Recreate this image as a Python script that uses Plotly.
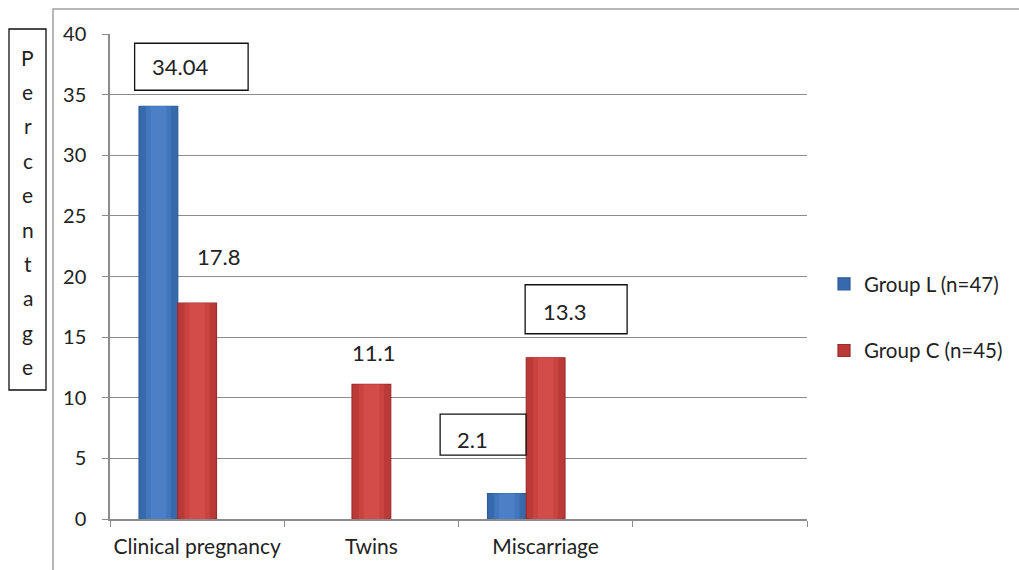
import plotly.graph_objects as go

# ---- data -------------------------------------------------------------
categories = ["Clinical pregnancy", "Twins", "Miscarriage", " "]
group_l = [34.04, None, 2.1, None]
group_c = [17.8, 11.1, 13.3, None]
series_names = ["Group L (n=47)", "Group C (n=45)"]
y_ticks = [0, 5, 10, 15, 20, 25, 30, 35, 40]
y_title = "Percentage"

# ---- style ------------------------------------------------------------
FONT = "Lato"
TXT = "#222222"
GRID = "#8c8c8c"
# shaded bar body: edge -> middle -> centre
BLUE_SHADES = ["#2c5c9b", "#3769ad", "#4276bd", "#4b80c6"]
RED_SHADES = ["#9c2d2b", "#bb3937", "#c94341", "#d24c49"]

# plot area in pixels (figure is 1019 x 570)
L, R, T, B = 110, 807, 34, 519
W, H = 1019, 570


def px_x(x):
    return (x - L) / (R - L)


def px_y(y):
    return (B - y) / (B - T)


# three slots per category, 150% gap (the third slot is unused)
slot = 1 / 4.5
layer_widths = [1.0, 0.85, 0.65, 0.4]

fig = go.Figure()
for vals, name, shades, grp, slot_off in [
    (group_l, series_names[0], BLUE_SHADES, "l", -1.5),
    (group_c, series_names[1], RED_SHADES, "c", -0.5),
]:
    centre = (slot_off + 0.5) * slot
    for j, (frac, col) in enumerate(zip(layer_widths, shades)):
        w = slot * frac
        fig.add_trace(go.Bar(
            x=categories, y=vals, name=name,
            width=w, offset=centre - w / 2,
            marker=dict(color=col if j else shades[1],
                        line=dict(color=shades[0], width=1.2 if j == 0 else 0)),
            legendgroup=grp, showlegend=(j == 0),
            hoverinfo="skip" if j else "x+y+name",
        ))

# value labels: (series, category, text dx, text dy, box or None)
# box = (left, right, top, bottom) in pixels relative to the bar top / category centre
label_layout = [
    (0, 0, -17, 40, (-62.5, 51, 63, 16)),
    (1, 0, 21, 47, None),
    (1, 1, 2, 32, None),
    (1, 2, 19, 46, (-20.5, 81.5, 73, 24)),
    (0, 2, -73, 54, (-105.5, -19.5, 79.5, 38.5)),
]
series_vals = [group_l, group_c]
for s, c, dx, dy, box in label_layout:
    v = series_vals[s][c]
    fig.add_annotation(
        x=categories[c], y=v, xref="x", yref="y",
        text=f"{v:g}", showarrow=False,
        xshift=dx, yshift=dy, xanchor="center", yanchor="middle",
        font=dict(family=FONT, size=22, color=TXT),
    )
    if box is not None:
        x0, x1, y_top, y_bot = box
        fig.add_shape(
            type="rect", xref="x", yref="y",
            xsizemode="pixel", ysizemode="pixel",
            xanchor=c, yanchor=v,
            x0=x0, x1=x1, y0=y_bot, y1=y_top,
            line=dict(color="#111111", width=1.3),
            fillcolor="rgba(0,0,0,0)", layer="above",
        )

# vertical axis title, one letter per line inside a framed box
for i, ch in enumerate(y_title):
    fig.add_annotation(
        x=px_x(27.5), y=px_y(57 + i * 34.4), xref="paper", yref="paper",
        text=ch, showarrow=False, xanchor="center", yanchor="middle",
        font=dict(family=FONT, size=21, color=TXT),
    )
fig.add_shape(
    type="rect", xref="paper", yref="paper",
    x0=px_x(9), x1=px_x(46), y0=px_y(390), y1=px_y(29),
    line=dict(color="#111111", width=1.3),
)

# outer chart frame
fig.add_shape(
    type="rect", xref="paper", yref="paper",
    x0=px_x(53), x1=px_x(1030), y0=px_y(590), y1=px_y(9),
    line=dict(color="#a0a0a0", width=1.5),
)

fig.update_layout(
    width=W, height=H,
    margin=dict(l=L, r=W - R, t=T, b=H - B, pad=0, autoexpand=False),
    paper_bgcolor="white", plot_bgcolor="white",
    barmode="overlay",
    font=dict(family=FONT, size=20, color=TXT),
    showlegend=True,
    legend=dict(
        x=px_x(824), y=px_y(264), xanchor="left", yanchor="top",
        font=dict(family=FONT, size=20.5, color=TXT),
        tracegroupgap=37, bgcolor="rgba(0,0,0,0)",
    ),
    xaxis=dict(
        type="category", categoryorder="array", categoryarray=categories,
        range=[-0.5, len(categories) - 0.5],
        tickson="boundaries", ticks="outside", ticklen=6, tickcolor=GRID,
        showline=True, linecolor=GRID, linewidth=1.5, showgrid=False,
        ticklabelstandoff=8, tickangle=0, automargin=False,
        tickfont=dict(family=FONT, size=21, color=TXT),
        fixedrange=True,
    ),
    yaxis=dict(
        range=[0, 40], tickvals=y_ticks, ticktext=[str(t) for t in y_ticks],
        ticks="outside", ticklen=6, tickcolor=GRID,
        showline=True, linecolor=GRID, linewidth=1.5,
        showgrid=True, gridcolor=GRID, gridwidth=1.2,
        zeroline=False, ticklabelstandoff=12, automargin=False,
        tickfont=dict(family=FONT, size=20, color=TXT),
        fixedrange=True,
    ),
)

fig.write_html("out.html")
